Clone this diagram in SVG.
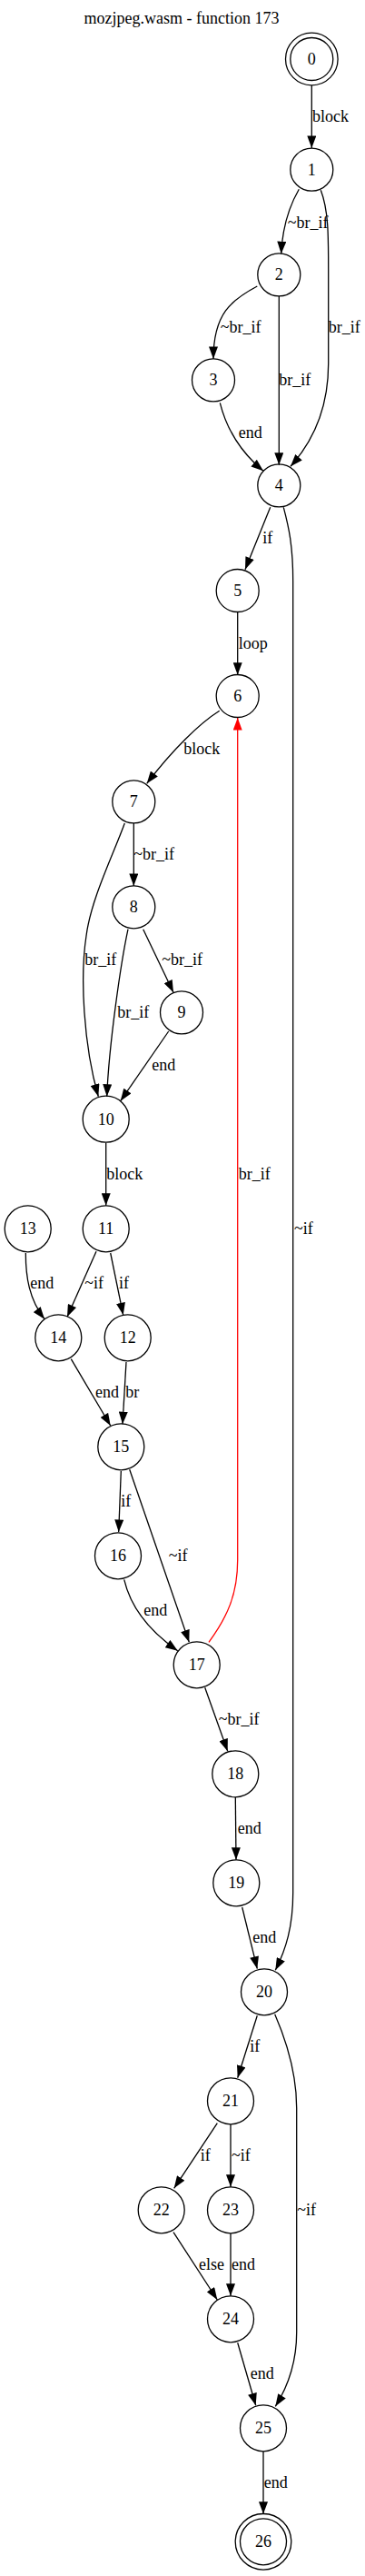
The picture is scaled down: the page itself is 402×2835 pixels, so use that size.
<svg xmlns="http://www.w3.org/2000/svg" width="402" height="2835" viewBox="0 0 402 2835">
<style>
text{font-family:"Liberation Serif","Times New Roman",serif;font-size:18px;fill:#000}
.n circle{fill:none;stroke:#000;stroke-width:1.3}
.n text{text-anchor:middle}
.e path{fill:none;stroke:#000;stroke-width:1.3;marker-end:url(#ah)}
.e path.r{stroke:#ff0000;marker-end:url(#ahr)}
.t{text-anchor:middle}
</style>
<defs>
<marker id="ah" markerUnits="userSpaceOnUse" markerWidth="14" markerHeight="10" viewBox="0 0 13.5 10" refX="13.5" refY="5" orient="auto"><path d="M0,0 L13.5,5 L0,10 z" fill="#000"/></marker>
<marker id="ahr" markerUnits="userSpaceOnUse" markerWidth="14" markerHeight="10" viewBox="0 0 13.5 10" refX="13.5" refY="5" orient="auto"><path d="M0,0 L13.5,5 L0,10 z" fill="#ff0000"/></marker>
</defs>
<rect width="402" height="2835" fill="#fff"/>
<text class="t" x="200" y="26">mozjpeg.wasm - function 173</text>
<g class="e" id="edges">
<path d="M343.3,94 L343.3,163"/>
<path d="M329.3,208.3 C318,228 311,250 309.7,279.3"/>
<path d="M353.3,209.3 C362,232 361.7,260 361.7,300 L361.7,400 C361.7,440 350,480 320,513.3"/>
<path d="M283.3,315 C255,330 235,345 235,395"/>
<path d="M307.3,326 L307.3,511.7"/>
<path d="M242.3,443.3 C249,470 262,495 290,518.3"/>
<path d="M297.7,558.3 L270,626.7"/>
<path d="M312.3,558.3 C318,580 322.7,600 322.7,640 L322.7,2083 C322.7,2120 315,2145 303.3,2168.3"/>
<path d="M261.7,674 L261.7,742.7"/>
<path d="M241.7,782.3 C220,796 190,825 161.7,862.3"/>
<path class="r" d="M230,1807.3 C250,1780 261.7,1755 261.7,1716.7 L261.7,790"/>
<path d="M147.3,906 L147.3,975"/>
<path d="M137.3,906 C125,940 100,990 95,1030 C88,1075 92,1150 108.3,1206.7"/>
<path d="M157.7,1022.7 L191,1092.3"/>
<path d="M141,1022.7 C133,1060 120,1150 117.7,1206.7"/>
<path d="M185.7,1135 L132.7,1211.7"/>
<path d="M116.7,1257.7 L116.7,1326.7"/>
<path d="M106,1377.3 L74,1449.3"/>
<path d="M121.7,1379 L135.7,1447.3"/>
<path d="M28.3,1379 C28.3,1405 32,1430 49,1451.7"/>
<path d="M78.3,1495.7 L121.7,1569"/>
<path d="M139,1499 L135,1567.3"/>
<path d="M133.3,1619 L130.7,1686"/>
<path d="M142.7,1617.3 L208.3,1807.3"/>
<path d="M136.7,1738.3 C143,1765 160,1792 195.7,1816.7"/>
<path d="M225.7,1857.3 L250.7,1927.3"/>
<path d="M259.3,1978 L260,2046.7"/>
<path d="M266.7,2099 L283.3,2166.7"/>
<path d="M283.3,2218.3 L261.7,2286.7"/>
<path d="M302.7,2216.7 C315,2245 326.7,2280 326.7,2320 L326.7,2566.7 C326.7,2600 318,2625 303.3,2648.3"/>
<path d="M239.3,2336.7 L191.7,2408.3"/>
<path d="M254,2338 L254,2406.7"/>
<path d="M191,2456.7 L239.3,2531"/>
<path d="M254,2458 L254,2526.7"/>
<path d="M261.7,2578.3 L281.7,2647.3"/>
<path d="M290,2698 L290,2766.7"/>
<text x="344" y="134">block</text>
<text x="316.7" y="251">~br_if</text>
<text x="361.7" y="366">br_if</text>
<text x="242.7" y="366">~br_if</text>
<text x="307.3" y="424">br_if</text>
<text x="262.7" y="482">end</text>
<text x="289.3" y="598">if</text>
<text x="324" y="1358">~if</text>
<text x="262.7" y="714">loop</text>
<text x="202.3" y="830">block</text>
<text x="262.7" y="1298">br_if</text>
<text x="147.3" y="946">~br_if</text>
<text x="93.3" y="1062">br_if</text>
<text x="178.3" y="1062">~br_if</text>
<text x="129.3" y="1120">br_if</text>
<text x="167.3" y="1178">end</text>
<text x="117.3" y="1298">block</text>
<text x="93.3" y="1418">~if</text>
<text x="131" y="1418">if</text>
<text x="33.3" y="1418">end</text>
<text x="105" y="1538">end</text>
<text x="138.3" y="1538">br</text>
<text x="133.3" y="1658">if</text>
<text x="185.7" y="1718">~if</text>
<text x="158.3" y="1778">end</text>
<text x="240.7" y="1898">~br_if</text>
<text x="261.7" y="2018">end</text>
<text x="278.3" y="2138">end</text>
<text x="275.3" y="2258">if</text>
<text x="327.3" y="2438">~if</text>
<text x="220.7" y="2378">if</text>
<text x="255" y="2378">~if</text>
<text x="219" y="2498">else</text>
<text x="255" y="2498">end</text>
<text x="275.7" y="2618">end</text>
<text x="290.7" y="2738">end</text>
</g>
<g class="n" id="n0"><circle cx="343.3" cy="65" r="23.5"/><circle cx="343.3" cy="65" r="28.8"/><text x="343.3" y="71">0</text></g>
<g class="n" id="n1"><circle cx="343.3" cy="186.7" r="23.5"/><text x="343.3" y="192.7">1</text></g>
<g class="n" id="n2"><circle cx="307.3" cy="302.3" r="23.5"/><text x="307.3" y="308.3">2</text></g>
<g class="n" id="n3"><circle cx="235" cy="418.3" r="23.5"/><text x="235" y="424.3">3</text></g>
<g class="n" id="n4"><circle cx="307.3" cy="534.3" r="23.5"/><text x="307.3" y="540.3">4</text></g>
<g class="n" id="n5"><circle cx="261.7" cy="650" r="23.5"/><text x="261.7" y="656">5</text></g>
<g class="n" id="n6"><circle cx="261.7" cy="766" r="23.5"/><text x="261.7" y="772">6</text></g>
<g class="n" id="n7"><circle cx="147.3" cy="882.3" r="23.5"/><text x="147.3" y="888.3">7</text></g>
<g class="n" id="n8"><circle cx="147.3" cy="998.3" r="23.5"/><text x="147.3" y="1004.3">8</text></g>
<g class="n" id="n9"><circle cx="200" cy="1114.3" r="23.5"/><text x="200" y="1120.3">9</text></g>
<g class="n" id="n10"><circle cx="116.7" cy="1231.7" r="25.5"/><text x="116.7" y="1237.7">10</text></g>
<g class="n" id="n11"><circle cx="116.7" cy="1352.3" r="25.5"/><text x="116.7" y="1358.3">11</text></g>
<g class="n" id="n12"><circle cx="140.7" cy="1472.3" r="25.5"/><text x="140.7" y="1478.3">12</text></g>
<g class="n" id="n13"><circle cx="30.7" cy="1352.3" r="25.5"/><text x="30.7" y="1358.3">13</text></g>
<g class="n" id="n14"><circle cx="64.3" cy="1472.3" r="25.5"/><text x="64.3" y="1478.3">14</text></g>
<g class="n" id="n15"><circle cx="133.3" cy="1592.3" r="25.5"/><text x="133.3" y="1598.3">15</text></g>
<g class="n" id="n16"><circle cx="130" cy="1712.3" r="25.5"/><text x="130" y="1718.3">16</text></g>
<g class="n" id="n17"><circle cx="216.7" cy="1832.3" r="25.5"/><text x="216.7" y="1838.3">17</text></g>
<g class="n" id="n18"><circle cx="259.3" cy="1952.3" r="25.5"/><text x="259.3" y="1958.3">18</text></g>
<g class="n" id="n19"><circle cx="260.3" cy="2072.3" r="25.5"/><text x="260.3" y="2078.3">19</text></g>
<g class="n" id="n20"><circle cx="291" cy="2192.3" r="25.5"/><text x="291" y="2198.3">20</text></g>
<g class="n" id="n21"><circle cx="254" cy="2312.3" r="25.5"/><text x="254" y="2318.3">21</text></g>
<g class="n" id="n22"><circle cx="177.7" cy="2432.3" r="25.5"/><text x="177.7" y="2438.3">22</text></g>
<g class="n" id="n23"><circle cx="254" cy="2432.3" r="25.5"/><text x="254" y="2438.3">23</text></g>
<g class="n" id="n24"><circle cx="254" cy="2552.3" r="25.5"/><text x="254" y="2558.3">24</text></g>
<g class="n" id="n25"><circle cx="290" cy="2672.3" r="25.5"/><text x="290" y="2678.3">25</text></g>
<g class="n" id="n26"><circle cx="290" cy="2797.3" r="25.5"/><circle cx="290" cy="2797.3" r="30.8"/><text x="290" y="2803.3">26</text></g>
</svg>
